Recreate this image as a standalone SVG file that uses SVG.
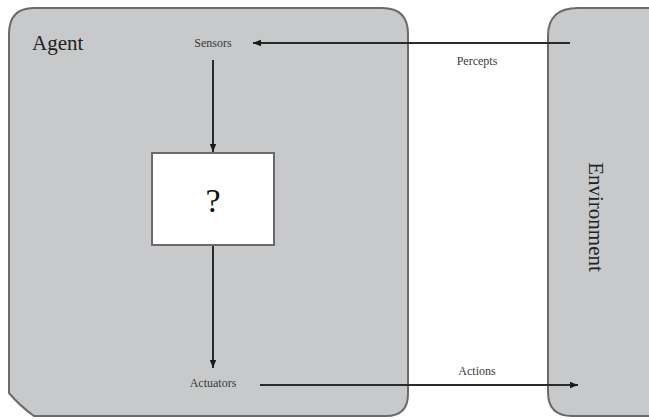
<svg xmlns="http://www.w3.org/2000/svg" width="649" height="420" viewBox="0 0 649 420">
<style>
.box{fill:#c8c9cb;stroke:#6a6a6a;stroke-width:2}
.line{stroke:#2a2a2a;stroke-width:2;fill:none}
.lbl{font-family:"Liberation Serif",serif;fill:#3a3a3a;font-size:12px;text-anchor:middle}
.big{font-family:"Liberation Serif",serif;fill:#222;font-size:21px}
</style>
<defs>
<marker id="ah" viewBox="0 0 10 10" refX="10" refY="5" markerWidth="10" markerHeight="8" markerUnits="userSpaceOnUse" orient="auto">
<path d="M0,1 L10,5 L0,9 Z" fill="#1a1a1a"/>
</marker>
</defs>
<rect width="649" height="420" fill="#fff"/>
<g id="agent">
<path class="box" d="M34,8 H382 Q408,8 408,34 V394 Q408,416 386,416 H34 Q20,406 9,393 V34 Q9,8 34,8 Z"/>
<text class="big" x="32" y="50">Agent</text>
</g>
<g id="environment">
<path class="box" d="M578,8 H660 V416 H572 Q548,416 548,392 V36 Q548,8 578,8 Z"/>
<text class="big" transform="translate(589,217) rotate(90)" text-anchor="middle">Environment</text>
</g>
<g id="sensors"><text class="lbl" x="213" y="47">Sensors</text></g>
<g id="agentfn">
<rect x="152" y="153" width="122" height="92" fill="#fff" stroke="#6a6a6a" stroke-width="2"/>
<text x="213" y="212" font-family="Liberation Serif,serif" font-size="34" fill="#111" text-anchor="middle">?</text>
</g>
<g id="actuators"><text class="lbl" x="213" y="387">Actuators</text></g>
<g id="connectors">
<line class="line" x1="570" y1="43" x2="253" y2="43" marker-end="url(#ah)"/>
<text class="lbl" x="477" y="65">Percepts</text>
<line class="line" x1="213" y1="60" x2="213" y2="152" marker-end="url(#ah)"/>
<line class="line" x1="213" y1="246" x2="213" y2="368" marker-end="url(#ah)"/>
<line class="line" x1="260" y1="385" x2="578" y2="385" marker-end="url(#ah)"/>
<text class="lbl" x="477" y="375">Actions</text>
</g>
</svg>
